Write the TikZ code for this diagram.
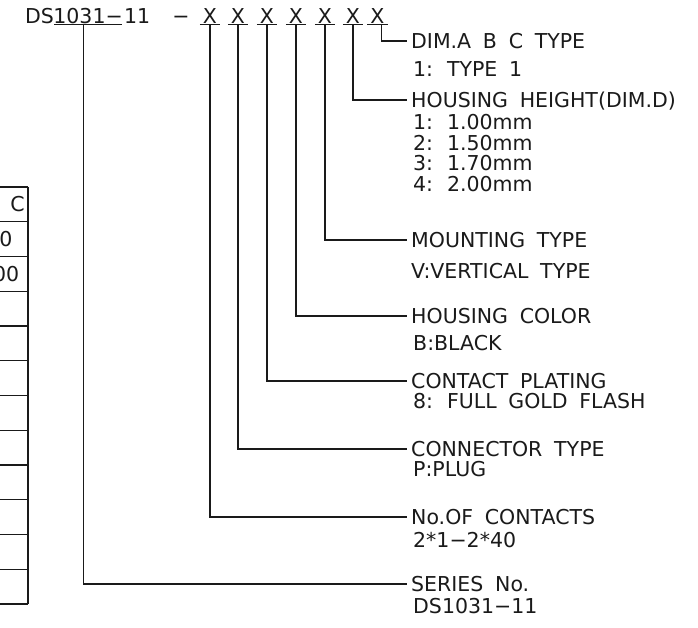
\documentclass[tikz,border=0pt]{standalone}
\usepackage{fontspec}
\setmainfont[WordSpace=1.8]{DejaVu Sans}
\definecolor{ink}{HTML}{1A1A1A}
\begin{document}
\begin{tikzpicture}[x=1pt,y=-1pt,
  txt/.style={font=\fontsize{20.5}{21}\selectfont, text=ink, inner sep=0pt, text height=14.5pt, text depth=0pt},
  lbl/.style={txt, anchor=west, inner xsep=4pt},
  sub/.style={txt, anchor=west},
  xs/.style={txt, inner xsep=3pt, inner ysep=1.3pt},
  ln/.style={draw=ink, line width=1.1pt},
  grid/.style={draw=ink, line width=1.1pt}]
\useasboundingbox (0,0) rectangle (698,628);
\clip (0,0) rectangle (698,628);

% ---- part number ----
\node[txt, anchor=west] (ds) at (25,16) {DS};
\node[txt, anchor=west, inner ysep=1.3pt, inner xsep=-1pt] (num) at (ds.east) {1031−};
\node[txt, anchor=west] (eleven) at ([xshift=2pt]num.east) {11};
\node[txt] (dash) at (181,16) {−};
\node[xs] (x1) at (210,16) {X};
\node[xs] (x2) at (238,16) {X};
\node[xs] (x3) at (267,16) {X};
\node[xs] (x4) at (296,16) {X};
\node[xs] (x5) at (325,16) {X};
\node[xs] (x6) at (353,16) {X};
\node[xs] (x7) at (377.5,16) {X};
\foreach \n in {num,x1,x2,x3,x4,x5,x6,x7}
  \draw[ln] (\n.south west) -- (\n.south east);

% ---- labels ----
\node[lbl] (t7) at (407,41) {DIM.A B C TYPE};
\node[sub] (s7) at (413,69) {1: TYPE 1};
\node[lbl] (t6) at (407,100) {HOUSING HEIGHT(DIM.D)};
\node[sub] (s6a) at (413,122) {1: 1.00mm};
\node[sub] (s6b) at (413,143) {2: 1.50mm};
\node[sub] (s6c) at (413,163.5) {3: 1.70mm};
\node[sub] (s6d) at (413,184) {4: 2.00mm};
\node[lbl] (t5) at (407,240) {MOUNTING TYPE};
\node[sub] (s5) at (411,271) {V:VERTICAL TYPE};
\node[lbl] (t4) at (407,316) {HOUSING COLOR};
\node[sub] (s4) at (413,343) {B:BLACK};
\node[lbl] (t3) at (407,381) {CONTACT PLATING};
\node[sub] (s3) at (413,401) {8: FULL GOLD FLASH};
\node[lbl] (t2) at (407,449) {CONNECTOR TYPE};
\node[sub] (s2) at (413,469) {P:PLUG};
\node[lbl] (t1) at (407,517) {No.OF CONTACTS};
\node[sub] (s1) at (413,540) {2*1−2*40};
\node[lbl] (t0) at (407,584) {SERIES No.};
\node[sub] (s0) at (413,606) {DS1031−11};

% ---- leaders ----
\draw[ln] ([xshift=4pt]x7.south) |- (t7.west);
\draw[ln] (x6.south) |- (t6.west);
\draw[ln] (x5.south) |- (t5.west);
\draw[ln] (x4.south) |- (t4.west);
\draw[ln] (x3.south) |- (t3.west);
\draw[ln] (x2.south) |- (t2.west);
\draw[ln] (x1.south) |- (t1.west);
\draw[ln] ([xshift=-5pt]num.south) |- (t0.west);

% ---- cut-off table at left ----
\draw[grid] (28,187) -- (28,604);
\foreach \k in {0,...,12}
  \draw[grid] (-2,{187+34.75*\k}) -- (28,{187+34.75*\k});
\node[txt] (hc) at (17.5,204.4) {C};
\node[txt, anchor=east] (r1) at (12.7,239) {0};
\node[txt, anchor=east] (r2) at (19.3,274) {00};
\end{tikzpicture}
\end{document}
